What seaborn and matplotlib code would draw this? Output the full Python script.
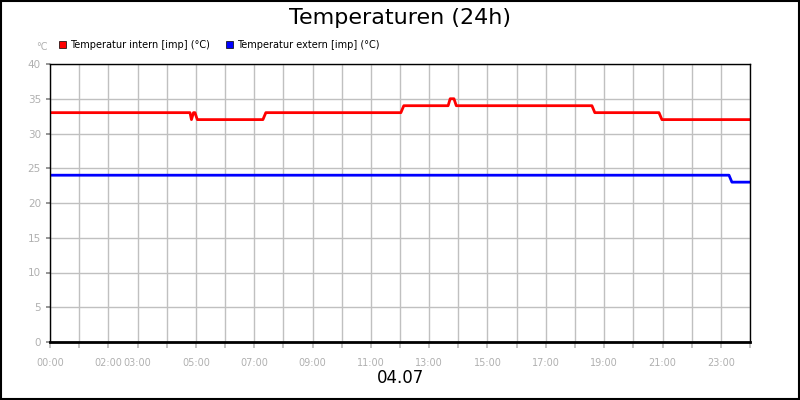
import matplotlib
matplotlib.use("Agg")
import matplotlib.pyplot as plt
import seaborn as sns
import pandas as pd
from matplotlib.patches import Rectangle

sns.set_theme(style="white")
plt.rcParams["font.family"] = ["DejaVu Sans"]
plt.rcParams["text.color"] = "black"

# hours of day, step-like readings
intern_hours = [0, 4.8, 4.85, 4.92, 4.97, 5.05, 7.3, 7.4, 12.03, 12.13, 13.65, 13.72, 13.85, 13.93, 18.58, 18.68, 20.88, 20.98, 24]
intern_temp = [33, 33, 32, 33, 33, 32, 32, 33, 33, 34, 34, 35, 35, 34, 34, 33, 33, 32, 32]
extern_hours = [0, 23.28, 23.38, 24]
extern_temp = [24, 24, 23, 23]

tick_hours = [0, 2, 3, 5, 7, 9, 11, 13, 15, 17, 19, 21, 23]
tick_labels = ["00:00", "02:00", "03:00", "05:00", "07:00", "09:00", "11:00",
               "13:00", "15:00", "17:00", "19:00", "21:00", "23:00"]

df = pd.concat([
    pd.DataFrame({"hour": intern_hours, "temp": intern_temp, "series": "Temperatur intern [imp] (°C)"}),
    pd.DataFrame({"hour": extern_hours, "temp": extern_temp, "series": "Temperatur extern [imp] (°C)"}),
])
palette = {"Temperatur intern [imp] (°C)": "#ff0000", "Temperatur extern [imp] (°C)": "#0000ff"}

fig = plt.figure(figsize=(8, 4), dpi=100)
ax = fig.add_axes([50 / 800, 1 - 342 / 400, 700 / 800, 278 / 400])
sns.lineplot(data=df, x="hour", y="temp", hue="series", palette=palette,
             linewidth=2, legend=False, ax=ax, sort=False)

ax.set_xlim(0, 24)
ax.set_ylim(0, 40)
ax.set_xticks(range(25))
ax.set_xticklabels([""] * 25)
for h, lab in zip(tick_hours, tick_labels):
    ax.text(h, -2.3, lab, ha="center", va="top", fontsize=7, color="#b0b0b0")
ax.set_yticks(range(0, 41, 5))
ax.tick_params(axis="y", labelsize=7.5, labelcolor="#b0b0b0", length=3, color="#888888", left=True)
ax.tick_params(axis="x", length=4, color="#bbbbbb", bottom=True)
ax.grid(True, color="#c0c0c0", linewidth=1)
ax.set_axisbelow(True)
ax.set_xlabel("")
ax.set_ylabel("")
for s in ax.spines.values():
    s.set_color("black")
    s.set_linewidth(1)
ax.spines["bottom"].set_linewidth(2)

fig.text(0.5, 1 - 18 / 400, "Temperaturen (24h)", ha="center", va="center", fontsize=16, color="black")
fig.text(42 / 800, 1 - 47 / 400, "°C", ha="center", va="center", fontsize=7, color="#b0b0b0")
fig.text(0.5, 1 - 378 / 400, "04.07", ha="center", va="center", fontsize=12, color="black")

for x0, lab, col in [(59, "Temperatur intern [imp] (°C)", "#ff0000"),
                     (226, "Temperatur extern [imp] (°C)", "#0000ff")]:
    fig.patches.append(Rectangle((x0 / 800, 1 - 48 / 400), 7 / 800, 7 / 400,
                                 transform=fig.transFigure, facecolor=col, edgecolor="black", linewidth=0.5))
    fig.text((x0 + 11) / 800, 1 - 44.5 / 400, lab, va="center", fontsize=7, color="black")

fig.patches.append(Rectangle((0.001, 0.002), 0.998, 0.996, transform=fig.transFigure,
                             fill=False, edgecolor="black", linewidth=1.5))
fig.savefig("out.png", dpi=100)
